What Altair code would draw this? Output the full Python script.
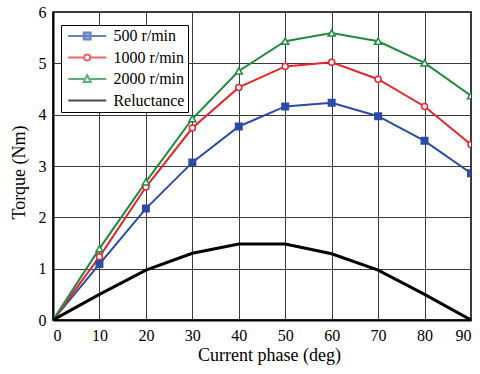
import altair as alt
import pandas as pd

# Torque vs. current phase angle
phase = [0, 10, 20, 30, 40, 50, 60, 70, 80, 90]
torque_500 = [0, 1.09, 2.17, 3.07, 3.77, 4.16, 4.23, 3.97, 3.49, 2.86]
torque_1000 = [0, 1.23, 2.59, 3.74, 4.53, 4.94, 5.02, 4.69, 4.16, 3.42]
torque_2000 = [0, 1.39, 2.69, 3.92, 4.85, 5.43, 5.59, 5.43, 5.01, 4.37]
torque_rel = [0, 0.50, 0.97, 1.30, 1.48, 1.48, 1.29, 0.97, 0.50, 0.0]

series_names = ["\u2007500 r/min", "1000 r/min", "2000 r/min", "Reluctance"]
series_colors = ["#2B4CA6", "#E8232B", "#1E8B3E", "#000000"]
series_fills = ["#2B4CA6", "#FFFFFF", "#FFFFFF", "#000000"]
series_widths = [2, 2, 2, 3]

# Legend glyphs: a line segment with the series marker in its middle
legend_paths = [
    "M-1,0H9M3.1,-0.9H4.9V0.9H3.1Z",
    "M-1,0H3.2M4.8,0H9M4.8,0A0.8,0.8,0,1,1,3.2,0A0.8,0.8,0,1,1,4.8,0Z",
    "M-1,0H3.47M4.53,0H9M4,-1L4.95,0.8L3.05,0.8Z",
    "M-1,0H9",
]

rows = []
for name, vals in zip(series_names, [torque_500, torque_1000, torque_2000, torque_rel]):
    for p, v in zip(phase, vals):
        rows.append({"phase": p, "torque": v, "series": name})
df = pd.DataFrame(rows)

serif = "Liberation Serif"

x_enc = alt.X(
    "phase:Q",
    scale=alt.Scale(domain=[0, 90], nice=False),
    axis=alt.Axis(
        title="Current phase (deg)", values=list(range(0, 91, 10)),
        titleX=216, titleY=40, titleBaseline="alphabetic",
        titleFontSize=18, labelFont=serif, titleFont=serif,
    ),
)
y_enc = alt.Y(
    "torque:Q",
    scale=alt.Scale(domain=[0, 6], nice=False),
    axis=alt.Axis(
        title="Torque (Nm)", values=list(range(0, 7)),
        titleX=-34, titleY=160, titleBaseline="middle", titleAlign="center",
        titleAngle=-90, titleFontSize=18, labelFont=serif, titleFont=serif,
    ),
)


def curve(name, color, width):
    return (
        alt.Chart(df)
        .transform_filter(alt.datum.series == name)
        .mark_line(strokeWidth=width, color=color, clip=True)
        .encode(x=x_enc, y=y_enc)
    )


def markers(name, color, shape, size, filled):
    return (
        alt.Chart(df)
        .transform_filter((alt.datum.series == name) & (alt.datum.phase > 0))
        .mark_point(
            shape=shape, size=size, filled=filled, color=color,
            fill=color if filled else "#FFFFFF", stroke=color,
            strokeWidth=1.5, opacity=1, clip=True,
        )
        .encode(x=x_enc, y=y_enc)
    )


curves = [curve(n, c, w) for n, c, w in zip(series_names, series_colors, series_widths)]
m500 = markers(series_names[0], series_colors[0], "square", 42, True)
m1000 = markers(series_names[1], series_colors[1], "circle", 36, False)
m2000 = markers(series_names[2], series_colors[2], "triangle-up", 50, False)

legend = alt.Legend(
    title=None, orient="none", legendX=8, legendY=13,
    padding=3, strokeColor="#000000", fillColor="#FFFFFF",
    labelFont=serif, labelFontSize=16, labelColor="#000000",
    labelOffset=33.4, symbolSize=57.76, rowPadding=5.5,
)

# Legend-only layer: its scales carry explicit domains, so its rows are filtered out
legend_layer = (
    alt.Chart(df)
    .transform_filter(alt.datum.phase < 0)
    .mark_point(filled=True, size=57.76)
    .encode(
        x=x_enc, y=y_enc,
        shape=alt.Shape("series:N", scale=alt.Scale(domain=series_names, range=legend_paths), legend=legend),
        stroke=alt.Stroke("series:N", scale=alt.Scale(domain=series_names, range=series_colors), legend=legend),
        fill=alt.Fill("series:N", scale=alt.Scale(domain=series_names, range=series_fills), legend=legend),
        strokeWidth=alt.StrokeWidth("series:N", scale=alt.Scale(domain=series_names, range=series_widths), legend=legend),
    )
)

chart = (
    alt.layer(*curves, m500, m1000, m2000, legend_layer)
    .properties(
        width=418, height=308,
        autosize=alt.AutoSizeParams(type="none"),
        padding={"left": 53, "top": 12, "right": 9, "bottom": 54},
        background="#FFFFFF",
    )
    .configure_view(stroke="#000000", strokeWidth=1.5)
    .configure_legend(labelFont=serif, labelFontSize=16)
    .configure_axis(
        grid=True, gridColor="#3A3A3A", gridWidth=1, gridOpacity=1,
        domain=True, domainColor="#000000", domainWidth=2,
        ticks=False, labelFont=serif, labelFontSize=16, labelColor="#000000",
        titleFont=serif, titleColor="#000000", titleFontWeight="normal",
        labelPadding=7,
    )
)

chart.save("out.html", embed_options={"renderer": "svg", "actions": False})
